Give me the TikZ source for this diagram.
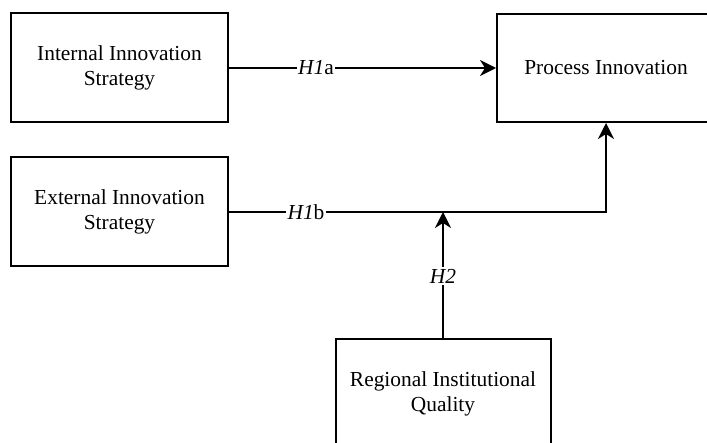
\documentclass[tikz,border=0pt]{standalone}
\usepackage{fontspec}
\setmainfont{Liberation Serif}
\usetikzlibrary{arrows.meta}
\begin{document}
\begin{tikzpicture}[x=1pt,y=-1pt,
  box/.style={draw,line width=2pt,rectangle,align=center,inner sep=0pt,
    font=\fontsize{21.4}{25}\selectfont},
  conn/.style={line width=2pt},
  arr/.style={conn,-{Stealth[length=16pt,width=16pt,inset=5pt]}},
  lab/.style={fill=white,inner sep=1.5pt,font=\fontsize{21.4}{25}\selectfont}]
\useasboundingbox (0,0) rectangle (707,443);
\clip (0,0) rectangle (707,443);
\node[box,minimum width=217pt,minimum height=109pt] (int) at (119.5,68) {Internal Innovation\\Strategy};
\node[box,minimum width=218pt,minimum height=108pt] (proc) at (606,68) {Process Innovation};
\node[box,minimum width=217pt,minimum height=109pt] (ext) at (119.5,212) {External Innovation\\Strategy};
\node[box,minimum width=215pt,minimum height=110pt] (reg) at (443,394) {Regional Institutional\\Quality};
\draw[arr] (int.east) -- (proc.west);
\node[lab] (h1a) at (316,68) {\textit{H1}a};
\draw[arr] (ext.east) -| (proc.south);
\node[lab] (h1b) at (306,212) {\textit{H1}b};
\draw[arr] (reg.north) -- (reg.north |- ext.east);
\node[lab] (h2) at (443,276) {\textit{H2}};
\end{tikzpicture}
\end{document}
